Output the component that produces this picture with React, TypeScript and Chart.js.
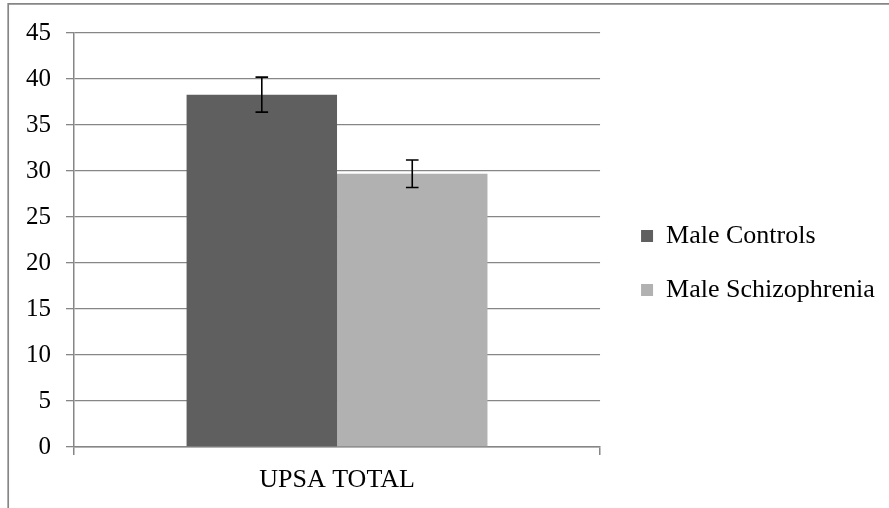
import React, { useEffect, useRef } from "react";
import { Chart, registerables } from "chart.js";

Chart.register(...registerables);

const categories = ["UPSA TOTAL"];
const seriesNames = ["Male Controls", "Male Schizophrenia"];
const controlsValues = [38.3];
const schizValues = [29.7];
const controlsErrors = [1.9];
const schizErrors = [1.5];
const yTicks = [0, 5, 10, 15, 20, 25, 30, 35, 40, 45];

const AXIS_GRAY = "#868686";
const FONT = "'Liberation Serif', 'Times New Roman', serif";

export default function App() {
  const ref = useRef<HTMLCanvasElement | null>(null);

  useEffect(() => {
    const canvas = ref.current;
    if (!canvas) return;
    const errors = [controlsErrors, schizErrors];

    const framePlugin = {
      id: "frame",
      beforeDraw(chart: any) {
        const ctx = chart.ctx;
        ctx.save();
        ctx.fillStyle = "#ffffff";
        ctx.fillRect(0, 0, chart.width, chart.height);
        ctx.strokeStyle = AXIS_GRAY;
        ctx.lineWidth = 1.7;
        ctx.beginPath();
        ctx.moveTo(8.2, chart.height + 2);
        ctx.lineTo(8.2, 3.8);
        ctx.lineTo(chart.width + 2, 3.8);
        ctx.stroke();
        ctx.restore();
      },
    };

    const errorBarPlugin = {
      id: "errorBars",
      afterDatasetsDraw(chart: any) {
        const ctx = chart.ctx;
        const yScale = chart.scales.y;
        ctx.save();
        ctx.strokeStyle = "#000000";
        ctx.lineWidth = 1.6;
        chart.data.datasets.forEach((ds: any, i: number) => {
          const meta = chart.getDatasetMeta(i);
          meta.data.forEach((el: any, j: number) => {
            const v = ds.data[j];
            const e = errors[i][j];
            const x = el.x;
            const yTop = yScale.getPixelForValue(v + e);
            const yBot = yScale.getPixelForValue(v - e);
            const cap = 6.3;
            ctx.beginPath();
            ctx.moveTo(x, yTop);
            ctx.lineTo(x, yBot);
            ctx.moveTo(x - cap, yTop);
            ctx.lineTo(x + cap, yTop);
            ctx.moveTo(x - cap, yBot);
            ctx.lineTo(x + cap, yBot);
            ctx.stroke();
          });
        });
        ctx.restore();
      },
    };

    const chart = new Chart(canvas, {
      type: "bar",
      data: {
        labels: categories,
        datasets: [
          {
            label: seriesNames[0],
            data: controlsValues,
            backgroundColor: "#5f5f5f",
            borderWidth: 0,
            categoryPercentage: 0.572,
            barPercentage: 1.0,
            xAxisID: "x",
            yAxisID: "y",
          },
          {
            label: seriesNames[1],
            data: schizValues,
            backgroundColor: "#b1b1b1",
            borderWidth: 0,
            categoryPercentage: 0.572,
            barPercentage: 1.0,
            xAxisID: "x",
            yAxisID: "y",
          },
        ],
      },
      options: {
        animation: false,
        responsive: false,
        devicePixelRatio: 1,
        layout: { padding: { left: 0, top: 27, right: 4.3, bottom: 9 } },
        plugins: {
          tooltip: { enabled: false },
          legend: {
            position: "right",
            align: "center",
            maxWidth: 320,
            labels: {
              boxWidth: 12,
              boxHeight: 12,
              padding: 28,
              color: "#000000",
              font: { family: FONT, size: 26 },
            },
          },
        },
        scales: {
          x: {
            type: "category",
            offset: true,
            afterFit(scale: any) {
              scale.height = 52;
            },
            grid: {
              offset: true,
              drawOnChartArea: false,
              drawTicks: true,
              tickLength: 8,
              color: AXIS_GRAY,
              lineWidth: 1.5,
            },
            border: { display: true, color: AXIS_GRAY, width: 1.5 },
            ticks: {
              color: "#000000",
              padding: 10,
              font: { family: FONT, size: 26 },
              maxRotation: 0,
            },
          },
          y: {
            type: "linear",
            min: 0,
            max: 45,
            afterFit(scale: any) {
              scale.width = 74;
            },
            afterBuildTicks(scale: any) {
              scale.ticks = yTicks.map((v) => ({ value: v }));
            },
            grid: {
              color: AXIS_GRAY,
              lineWidth: 1.3,
              drawTicks: true,
              tickLength: 8,
            },
            border: { display: true, color: AXIS_GRAY, width: 1.5 },
            ticks: {
              color: "#000000",
              padding: 15,
              font: { family: FONT, size: 25 },
            },
          },
          gapRight: {
            type: "linear",
            position: "right",
            display: true,
            grid: { display: false, drawTicks: false },
            border: { display: false },
            ticks: { display: false },
            afterFit(scale: any) {
              scale.width = 13;
            },
          },
          gapTop: {
            type: "linear",
            position: "top",
            display: true,
            grid: { display: false, drawTicks: false },
            border: { display: false },
            ticks: { display: false },
            afterFit(scale: any) {
              scale.height = 6;
            },
          },
        },
      },
      plugins: [framePlugin, errorBarPlugin],
    } as any);

    return () => chart.destroy();
  }, []);

  return (
    <div style={{ position: "absolute", left: 0, top: 0, width: 889, height: 508 }}>
      <canvas ref={ref} width={889} height={508} style={{ display: "block" }} />
    </div>
  );
}
